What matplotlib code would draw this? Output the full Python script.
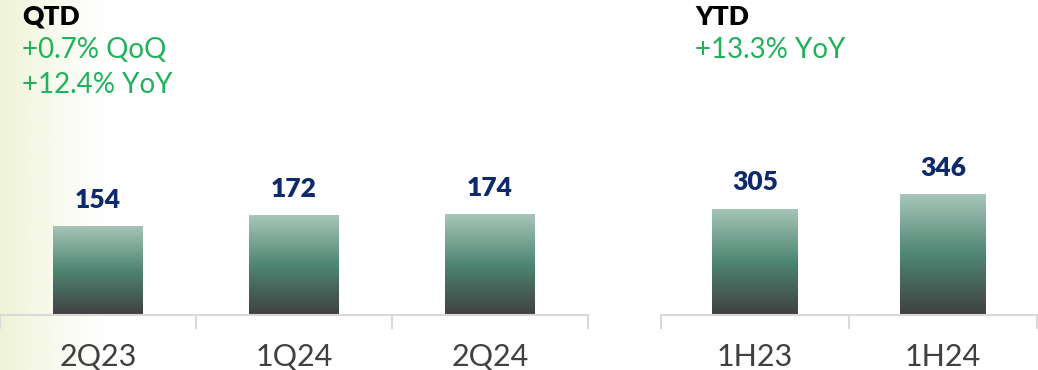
import numpy as np
import matplotlib
matplotlib.use('Agg')
import matplotlib.pyplot as plt
from matplotlib.colors import LinearSegmentedColormap

# data
qtd_labels = ['2Q23', '1Q24', '2Q24']
qtd_values = [154, 172, 174]
ytd_labels = ['1H23', '1H24']
ytd_values = [305, 346]

qtd_notes = ['+0.7% QoQ', '+12.4% YoY']
ytd_notes = ['+13.3% YoY']

plt.rcParams['font.family'] = ['Lato', 'DejaVu Sans']

green = '#1fb25a'
navy = '#0e2a6a'
grey_txt = '#404040'
axis_grey = '#d9d9d9'

bar_cmap = LinearSegmentedColormap.from_list(
    'bar', ['#404040', '#4e8672', '#a8c6ba'])

fig = plt.figure(figsize=(10.38, 3.70), dpi=100)

# pale gradient on the left edge
bg = fig.add_axes([0, 0, 0.11, 1])
grad = np.linspace(1, 0, 256).reshape(1, -1) ** 1.3
bg_img = np.ones((1, 256, 4))
bg_img[..., :3] = matplotlib.colors.to_rgb('#eef4d6')
bg_img[..., 3] = grad
bg.imshow(bg_img, aspect='auto', extent=(0, 1, 0, 1))
bg.set_axis_off()

W, H = 1038, 370
base = 315


def panel(left_px, right_px, labels, values, ymax):
    ax = fig.add_axes([left_px / W, 1 - base / H, (right_px - left_px) / W, base / H])
    ax.patch.set_alpha(0)
    x = np.arange(len(values))
    bars = ax.bar(x, values, width=0.455, color='none')
    gimg = np.linspace(0, 1, 256).reshape(-1, 1)
    for b in bars:
        x0, y0 = b.get_x(), b.get_y()
        im = ax.imshow(gimg, cmap=bar_cmap, origin='lower', aspect='auto',
                       extent=(x0, x0 + b.get_width(), y0, y0 + b.get_height()),
                       zorder=2)
        im.set_clip_path(b)
    for xi, v in zip(x, values):
        ax.annotate(str(v), (xi, v), xytext=(0, 13), textcoords='offset points',
                    ha='center', va='baseline', fontsize=19, fontweight='heavy',
                    color=navy)
    ax.set_xlim(-0.5, len(values) - 0.5)
    ax.set_ylim(0, ymax)
    ax.set_xticks(x)
    ax.set_xticklabels(labels, fontsize=22, color=grey_txt)
    ax.tick_params(axis='x', which='major', length=0, pad=20)
    ax.set_xticks(np.arange(len(values) + 1) - 0.5, minor=True)
    ax.tick_params(axis='x', which='minor', length=10, width=1.5, color=axis_grey)
    ax.set_yticks([])
    for s in ['top', 'right', 'left']:
        ax.spines[s].set_visible(False)
    ax.spines['bottom'].set_color(axis_grey)
    ax.spines['bottom'].set_linewidth(1.5)
    return ax


panel(0, 588, qtd_labels, qtd_values, 315 / 0.58)
panel(661, 1037, ytd_labels, ytd_values, 315 / 0.349)

fig.text(22 / W, 1 - 25 / H, 'QTD', fontsize=19, fontweight='heavy', color='black')
for i, t in enumerate(qtd_notes):
    fig.text(22 / W, 1 - (58 + 35 * i) / H, t, fontsize=20, color=green)
fig.text(695 / W, 1 - 25 / H, 'YTD', fontsize=19, fontweight='heavy', color='black')
for i, t in enumerate(ytd_notes):
    fig.text(695 / W, 1 - (58 + 35 * i) / H, t, fontsize=20, color=green)

fig.savefig('out.png', dpi=100)
